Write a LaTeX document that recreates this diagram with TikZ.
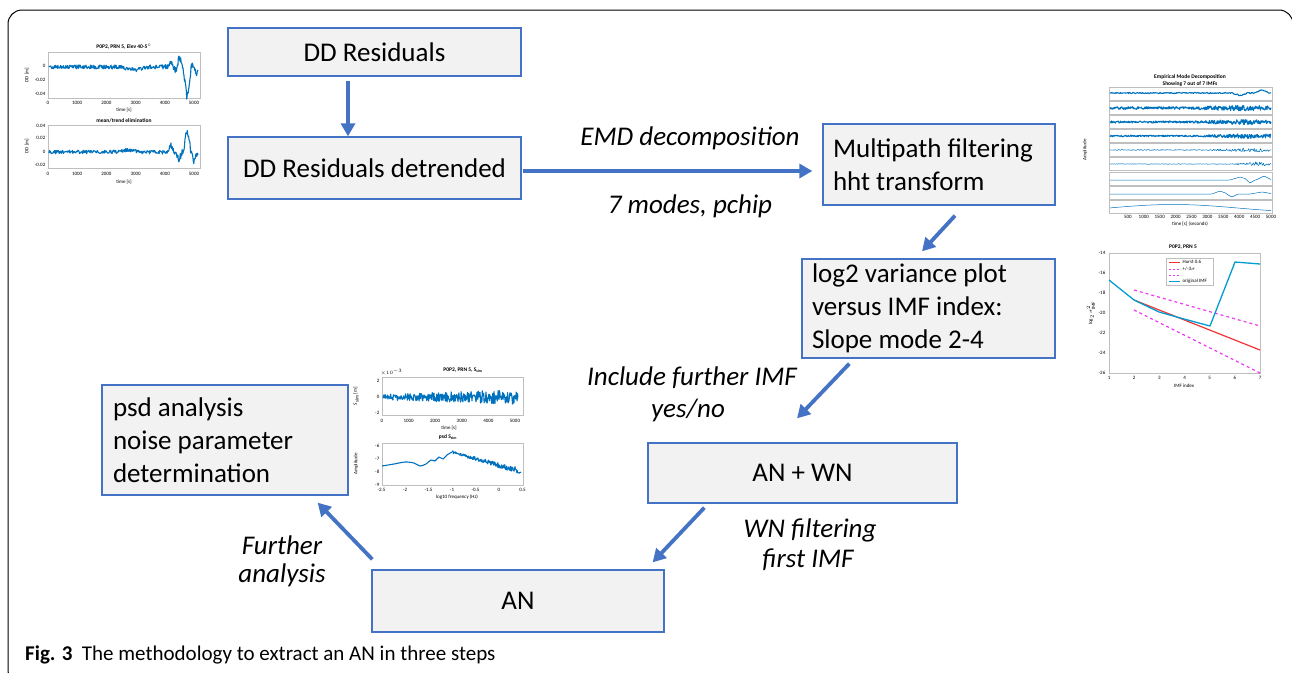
\documentclass[tikz,border=0pt]{standalone}
\usepackage{fontspec}
\setmainfont{Carlito}
\usepackage{tikz}
\usetikzlibrary{arrows.meta}

\definecolor{boxfill}{RGB}{242,242,242}
\definecolor{boxline}{RGB}{68,114,196}
\definecolor{flowblue}{RGB}{68,114,196}
\definecolor{plotblue}{RGB}{0,114,189}
\definecolor{hurstred}{RGB}{240,50,50}
\definecolor{sigmapink}{RGB}{240,60,240}

\tikzset{
    stepbox/.style={draw=boxline, fill=boxfill, line width=1.3pt, inner sep=0pt,
                    font=\fontsize{27}{33}\selectfont},
    flushtext/.style={align=left, execute at begin node={\spaceskip=0pt\xspaceskip=0pt\relax}},
    flow/.style={flowblue, line width=3.8pt, -{Triangle[length=13pt,width=14pt]}},
    remark/.style={font=\fontsize{27}{33}\selectfont\itshape},
    plottext/.style={font=\fontsize{5}{6}\selectfont, inner sep=0.5pt},
    plottitle/.style={font=\fontsize{5.5}{6.5}\selectfont\bfseries, inner sep=0.5pt},
    axbox/.style={draw=black!25, line width=0.4pt},
    trace/.style={plotblue, line width=1.1pt, line join=round},
}

\begin{document}
\begin{tikzpicture}[x=1pt,y=-1pt,
    declare function={bump(\t,\c,\w)=max(0,1-abs(\t-\c)/\w);}]
        \useasboundingbox (0,0) rectangle (1292,672);
        \pgfmathsetseed{11}

        % the frame round the figure
        \draw[line width=1pt, rounded corners=14pt] (8,10) rectangle (1293,684);

        % the steps
        \node[stepbox, minimum width=293pt, minimum height=48pt] (res) at (374.5,52) {DD Residuals};
        \node[stepbox, minimum width=293pt, minimum height=62pt] (det) at (374.5,168) {DD Residuals detrended};
        \node[stepbox, flushtext, minimum width=232pt, minimum height=81pt, text width=212pt] (mp) at (939,164.5)
            {Multipath filtering\\hht transform};
        \node[stepbox, flushtext, minimum width=253pt, minimum height=99pt, text width=233pt] (log) at (928.5,308.5)
            {log2 variance plot\\versus IMF index:\\Slope mode 2-4};
        \node[stepbox, minimum width=309pt, minimum height=60pt] (anwn) at (802.5,473) {AN + WN};
        \node[stepbox, minimum width=292pt, minimum height=62pt] (an) at (518,601) {AN};
        \node[stepbox, flushtext, minimum width=246pt, minimum height=110pt, text width=224pt] (psd) at (225,440)
            {psd analysis\\noise parameter\\determination};

        % the connectors
        \draw[flow] ([xshift=-26.5pt,yshift=-4pt]res.south) -- ([xshift=-26.5pt]det.north);
        \draw[flow] ([xshift=1pt,yshift=-3pt]det.east) -- ([xshift=-10pt,yshift=-6.5pt]mp.west);
        \draw[flow] ([xshift=16pt,yshift=-10pt]mp.south) -- ([xshift=-6.5pt,yshift=7pt]log.north);
        \draw[flow] ([xshift=48pt,yshift=-5pt]log.south west) -- ([xshift=-5.5pt,yshift=24pt]anwn.north);
        \draw[flow] ([xshift=57pt,yshift=-4pt]anwn.south west) -- ([xshift=-12pt,yshift=7pt]an.north east);
        \draw[flow] ([xshift=1pt,yshift=10pt]an.north west) -- ([xshift=-31pt,yshift=-7pt]psd.south east);

        % the labels on the connectors
        \node[remark] (emd) at (690,138) {EMD decomposition};
        \node[remark] (modes) at (690,206) {7 modes, pchip};
        \node[remark] (incl) at (692,378) {Include further IMF};
        \node[remark] (yesno) at (688,410) {yes/no};
        \node[remark] (wnfilt) at (810,530) {WN filtering};
        \node[remark] (firstimf) at (808,560) {first IMF};
        \node[remark] (further) at (282,545) {Further};
        \node[remark] (analysis) at (282,575) {analysis};

        % plot: DD residuals, raw and detrended
        \draw[axbox] (48,52) rectangle (200,98);
        \draw[axbox] (48,125) rectangle (200,168);
        \node[plottitle] at (124,47) {P0P2, PRN 5, Elev 40-5$^\circ$};
        \node[plottitle] at (124,121) {mean/trend elimination};
        \draw[trace] plot[domain=49:198, samples=320] (\x, {67 + 3*bump(\x,135,15) - 6*bump(\x,171,3)
            + 4*bump(\x,176,2.5) - 10*bump(\x,179.5,3.5) + 30*bump(\x,187,4.5) - 3*bump(\x,193,2.5)
            + 9*bump(\x,197,2.5) + (2+2.5*bump(\x,190,30))*rand});
        \draw[trace] plot[domain=49:198, samples=320] (\x, {152 - 2*bump(\x,128,15) - 8*bump(\x,171,3)
            + 8*bump(\x,179,3) - 22*bump(\x,187,4) + 10*bump(\x,194,3) + 4*bump(\x,198,2)
            + (1.8+2*bump(\x,185,25))*rand});
        \foreach \v/\y in {0/66,-0.02/80,-0.04/94}
            \node[plottext, anchor=east] at (46,\y) {\v};
        \foreach \v/\y in {0.04/126,0.02/138,0/152,-0.02/165}
            \node[plottext, anchor=east] at (46,\y) {\v};
        \foreach \t in {0,1000,...,5000} {
            \node[plottext] at ({48+\t*0.0292},103) {\t};
            \node[plottext] at ({48+\t*0.0292},174) {\t};
        }
        \node[plottext] at (124,110) {time [s]};
        \node[plottext] at (124,182) {time [s]};
        \node[plottext, rotate=90] at (27,75) {DD [m]};
        \node[plottext, rotate=90] at (27,146) {DD [m]};

        % plot: empirical mode decomposition
        \node[plottitle] at (1190,77) {Empirical Mode Decomposition};
        \node[plottitle] at (1190,84) {Showing 7 out of 7 IMFs};
        \foreach \c in {94,108,122,136,150,164,179,193,207}
            \draw[axbox] (1109,\c-6.5) rectangle (1272,\c+6.5);
        \draw[trace] plot[domain=1110:1271, samples=200] (\x, {93 + 0.6*rand + 2.5*bump(\x,1240,8) - 3.5*bump(\x,1262,7)});
        \draw[trace] plot[domain=1110:1271, samples=320] (\x, {108 + (1.3+1.8*bump(\x,1240,50))*rand});
        \draw[trace] plot[domain=1110:1271, samples=320] (\x, {122 + (1+1.8*bump(\x,1240,50))*rand});
        \draw[trace] plot[domain=1110:1271, samples=320] (\x, {136 + (0.8+1.8*bump(\x,1250,50))*rand});
        \draw[trace, line width=0.5pt] plot[domain=1110:1271, samples=240] (\x, {150 + (0.5+1.8*bump(\x,1250,40))*rand});
        \draw[trace, line width=0.5pt] plot[domain=1110:1271, samples=240] (\x, {164 + (0.3+2*bump(\x,1258,25))*rand});
        \draw[trace, line width=0.5pt] plot[domain=1110:1271, samples=100] (\x, {180 - 3*bump(\x,1240,10) + 3*bump(\x,1250,5) - 4*bump(\x,1264,8)});
        \draw[trace, line width=0.5pt] plot[domain=1110:1271, samples=100] (\x, {194 - 3*bump(\x,1220,8) + 3*bump(\x,1232,6) - 2*bump(\x,1262,12)});
        \draw[trace, line width=0.5pt] plot[domain=1110:1271, samples=100] (\x, {207 + 1 - 3.5*sin((\x-1109)*1.4)});
        \foreach \t in {500,1000,...,5000}
            \node[plottext] at ({1112+\t*0.0318},217) {\t};
        \node[plottext] at (1190,224) {time [s] (seconds)};
        \node[plottext, rotate=90] at (1085,150) {Amplitude};

        % plot: log2 variance versus IMF index
        \node[plottitle] at (1183,247) {P0P2, PRN 5};
        \draw[axbox] (1109,253) rectangle (1260,373);
        \draw[sigmapink, line width=1.2pt, dash pattern=on 3pt off 3pt] (1134,290) -- (1260,326);
        \draw[sigmapink, line width=1.2pt, dash pattern=on 3pt off 3pt] (1134,310) -- (1260,373);
        \draw[hurstred, line width=1.2pt] (1134,300) -- (1260,350);
        \draw[plotblue!70!cyan, line width=1.3pt, line join=round] (1109,280) -- (1134,300) -- (1159,312)
            -- (1184,319) -- (1210,326) -- (1235,262) -- (1260,264);
        \draw[axbox, fill=white] (1166,258) rectangle (1213,285);
        \draw[hurstred, line width=1pt] (1169,262) -- (1180,262);
        \draw[sigmapink, line width=1pt, dash pattern=on 2pt off 2pt] (1169,269) -- (1180,269);
        \draw[sigmapink, line width=1pt, dash pattern=on 2pt off 2pt] (1169,275) -- (1180,275);
        \draw[plotblue!70!cyan, line width=1pt] (1169,281) -- (1180,281);
        \node[plottext, anchor=west] at (1182,262) {Hurst 0.6};
        \node[plottext, anchor=west] at (1182,269) {+/-3$\sigma$};
        \node[plottext, anchor=west] at (1182,281) {original IMF};
        \foreach \v in {-14,-16,...,-26}
            \node[plottext, anchor=east] at (1106,{113-10*\v}) {\v};
        \foreach \i in {1,...,7}
            \node[plottext] at ({1109+(\i-1)*25.17},378) {\i};
        \node[plottext] at (1184,386) {IMF index};
        \node[plottext, rotate=90] at (1091,313) {log$_2$ $\sigma^2_{\mathrm{IMF}}$};

        % plot: simulated AN and its psd
        \node[plottitle] at (463,370) {P0P2, PRN 5, S$_{\mathbf{sim}}$};
        \draw[axbox] (382,377) rectangle (523,415);
        \node[plottext, anchor=south west] at (380,376) {$\times10^{-3}$};
        \draw[trace] plot[domain=383:518, samples=300] (\x, {397 + (3+4.5*(\x-383)/135)*rand});
        \foreach \v/\y in {2/381,0/397,-2/413}
            \node[plottext, anchor=east] at (380,\y) {\v};
        \foreach \t in {0,1000,...,5000}
            \node[plottext] at ({382+\t*0.0266},421) {\t};
        \node[plottext] at (449,428) {time [s]};
        \node[plottext, rotate=90] at (356,396) {S$_{\mathrm{sim}}$ [m]};
        \node[plottitle] at (448,437) {psd S$_{\mathbf{sim}}$};
        \draw[axbox] (382,443) rectangle (523,485);
        \draw[trace] plot[smooth] coordinates {(382,466) (394,464) (405,462) (414,463) (420,466)
            (426,464) (431,460) (435,461) (439,457) (443,459) (447,455) (452,452)};
        \draw[trace] plot[domain=452:521, samples=150] (\x, {452 + (\x-452)*0.28 + (1.2+2.2*(\x-452)/69)*rand});
        \foreach \v/\y in {-6/446,-7/459,-8/472,-9/485}
            \node[plottext, anchor=east] at (380,\y) {\v};
        \foreach \f in {-2.5,-2,-1.5,-1,-0.5,0,0.5}
            \node[plottext] at ({499+\f*47},490) {\f};
        \node[plottext] at (457,497) {log10 frequency (Hz)};
        \node[plottext, rotate=90] at (356,464) {Amplitude};

        % the caption
        \node[anchor=base west, inner sep=0pt, font=\fontsize{21}{25}\selectfont] (caption) at (25,660)
            {\textbf{Fig. 3}\hspace{0.45em}The methodology to extract an AN in three steps};
\end{tikzpicture}
\end{document}
